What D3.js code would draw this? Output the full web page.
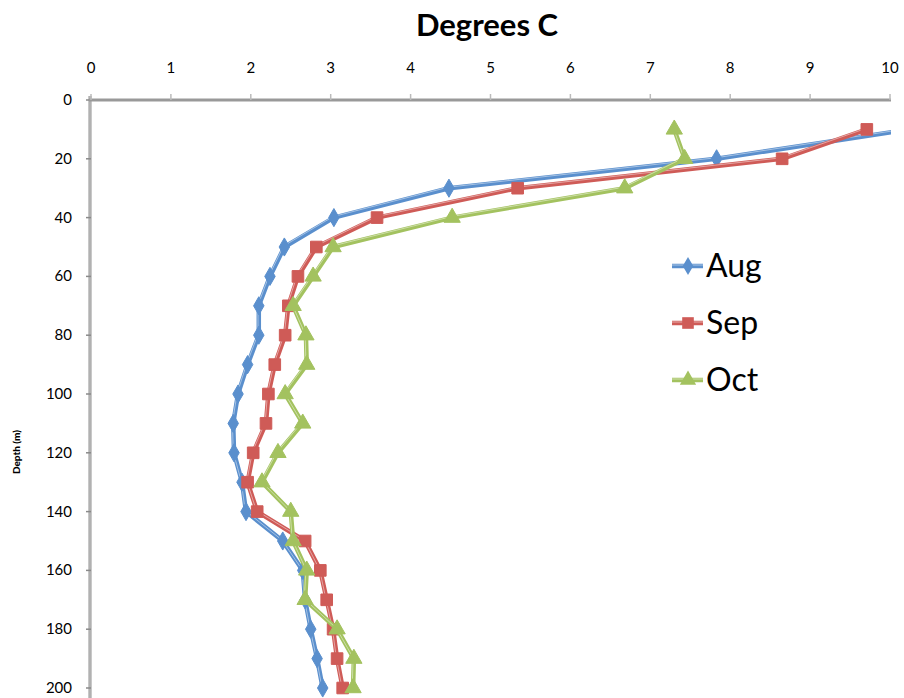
<!DOCTYPE html>
<html><head><meta charset="utf-8">
<script src="https://cdn.jsdelivr.net/npm/d3@7"></script>
<style>body{margin:0;background:#fff}svg{display:block}text{font-family:Lato,"Open Sans","Liberation Sans",sans-serif}</style>
</head><body>
<svg id="c" width="904" height="698"></svg>
<script>
const depths = [10,20,30,40,50,60,70,80,90,100,110,120,130,140,150,160,170,180,190,200];
const aug = [10.25,7.83,4.48,3.04,2.42,2.24,2.10,2.10,1.96,1.84,1.78,1.79,1.89,1.94,2.40,2.65,2.68,2.75,2.83,2.90];
const sep = [9.71,8.65,5.34,3.58,2.82,2.59,2.47,2.43,2.30,2.22,2.19,2.03,1.96,2.08,2.68,2.87,2.95,3.03,3.08,3.15];
const oct = [7.30,7.43,6.68,4.52,3.03,2.78,2.53,2.69,2.70,2.43,2.65,2.34,2.14,2.50,2.53,2.70,2.68,3.08,3.29,3.28];
const seriesNames = ["Aug","Sep","Oct"];
const xTicks = [0,1,2,3,4,5,6,7,8,9,10];
const yTicks = [0,20,40,60,80,100,120,140,160,180,200];
const colors = {Aug:"#5A8FCD",Sep:"#CF5B57",Oct:"#A3C25F"};
const shapes = {Aug:d3.symbolDiamond,Sep:d3.symbolSquare,Oct:d3.symbolTriangle};
const shapeSize = {Aug:95,Sep:135,Oct:115};

const svg = d3.select("#c");
const x = d3.scaleLinear().domain([0,10]).range([91,890]);
const y = d3.scaleLinear().domain([0,200]).range([100,688]);

// title
svg.append("text").attr("x",487).attr("y",36).attr("text-anchor","middle")
  .attr("font-size",31).attr("font-weight","bold").text("Degrees C");

// y axis label
svg.append("text").attr("transform","translate(20,452) rotate(-90)")
  .attr("text-anchor","middle").attr("font-size",10).attr("font-weight",900)
  .attr("fill","#000").text("Depth (m)");

// y axis line
svg.append("line").attr("x1",90).attr("x2",90).attr("y1",96).attr("y2",698)
  .attr("stroke","#c8c8c8").attr("stroke-width",4);
svg.append("line").attr("x1",90).attr("x2",90).attr("y1",96).attr("y2",698)
  .attr("stroke","#9a9a9a").attr("stroke-width",1);
// y ticks
const yAxis = svg.append("g");
yTicks.forEach(t=>{
  yAxis.append("line").attr("x1",86).attr("x2",91).attr("y1",y(t)).attr("y2",y(t))
    .attr("stroke","#8a8a8a").attr("stroke-width",1.5);
  yAxis.append("text").attr("x",72).attr("y",y(t)+5).attr("text-anchor","end")
    .attr("font-size",15).attr("fill","#000").text(t);
});

// top x axis
svg.append("line").attr("x1",89).attr("x2",891).attr("y1",y(0)).attr("y2",y(0))
  .attr("stroke","#999").attr("stroke-width",3);
xTicks.forEach(t=>{
  svg.append("line").attr("x1",x(t)).attr("x2",x(t)).attr("y1",94).attr("y2",100)
    .attr("stroke","#bbb").attr("stroke-width",1.5);
  svg.append("text").attr("x",x(t)).attr("y",73).attr("text-anchor","middle")
    .attr("font-size",15).attr("fill","#000").text(t);
});

svg.append("clipPath").attr("id","plot").append("rect")
  .attr("x",85).attr("y",95).attr("width",806).attr("height",603);

const data = {Aug:aug,Sep:sep,Oct:oct};
const line = d3.line().x(d=>x(d[0])).y(d=>y(d[1]));
const g = svg.append("g").attr("clip-path","url(#plot)");
seriesNames.forEach(name=>{
  const pts = data[name].map((v,i)=>[v,depths[i]]);
  const c = colors[name];
  g.append("path").attr("d",line(pts)).attr("fill","none").attr("stroke",c)
    .attr("stroke-width",4.5).attr("stroke-linejoin","round");
  g.append("path").attr("d",line(pts)).attr("fill","none").attr("stroke","#fff")
    .attr("stroke-opacity",0.45).attr("stroke-width",1).attr("transform","translate(-0.8,-1)");
  pts.forEach(p=>{
    g.append("path").attr("d",d3.symbol().type(shapes[name]).size(shapeSize[name])())
      .attr("transform",`translate(${x(p[0])},${y(p[1])})`)
      .attr("fill",c).attr("stroke",c).attr("stroke-width",1);
  });
});

// legend
seriesNames.forEach((name,i)=>{
  const ly = 266 + i*57;
  const c = colors[name];
  svg.append("line").attr("x1",672).attr("x2",703).attr("y1",ly).attr("y2",ly)
    .attr("stroke",c).attr("stroke-width",4.5);
  svg.append("line").attr("x1",672).attr("x2",703).attr("y1",ly-1).attr("y2",ly-1)
    .attr("stroke","#fff").attr("stroke-opacity",0.5).attr("stroke-width",1);
  svg.append("path").attr("d",d3.symbol().type(shapes[name]).size(shapeSize[name])())
    .attr("transform",`translate(688,${ly})`).attr("fill",c);
  svg.append("text").attr("x",706).attr("y",ly+11).attr("font-size",32)
    .attr("fill","#000").text(name);
});
</script>
</body></html>
